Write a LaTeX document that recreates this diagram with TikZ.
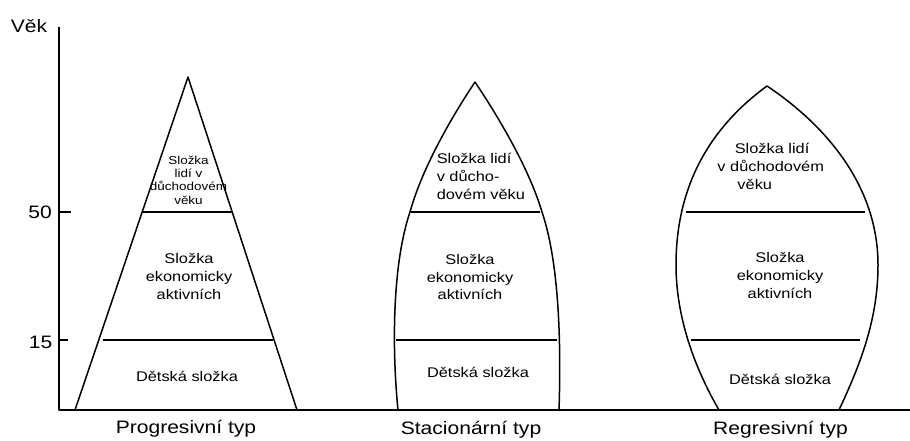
\documentclass[tikz,border=0pt]{standalone}
\usepackage{fontspec}
\setmainfont[FakeStretch=1.17]{Liberation Sans}
\begin{document}
\begin{tikzpicture}[x=1pt,y=-1pt,line width=1.5pt,line join=round,
  lbl/.style={inner sep=0pt,text depth=0pt,anchor=south,align=center},
  lblw/.style={inner sep=0pt,text depth=0pt,anchor=south west,align=left},
  small/.style={font=\fontsize{11.5}{13.3}\selectfont},
  mid/.style={font=\fontsize{14}{17.8}\selectfont},
  big/.style={font=\fontsize{18}{22}\selectfont}]
\useasboundingbox (0,0) rectangle (910,440);

% axes
\coordinate (axT) at (59,27);
\coordinate (axO) at (59,410);
\coordinate (axE) at (910,410);
\draw (axT) -- (axO) -- (axE);
\coordinate (t50a) at (59,212); \coordinate (t50b) at (70.5,212);
\coordinate (t15a) at (59,340); \coordinate (t15b) at (68,340);
\draw (t50a) -- (t50b);
\draw (t15a) -- (t15b);
\node[lblw,big] (vek) at (10,33.3) {Věk};
\node[inner sep=0pt,anchor=base east,big] (l50) at (52.5,218.3) {50};
\node[inner sep=0pt,anchor=base east,big] (l15) at (53,348.3) {15};

% progressive
\coordinate (pA) at (188,77);
\coordinate (pL) at (75,410);
\coordinate (pR) at (297,410);
\draw (pL) -- (pA) -- (pR);
\coordinate (p50L) at (142,212); \coordinate (p50R) at (232,212);
\coordinate (p15L) at (103,340); \coordinate (p15R) at (273,340);
\draw (p50L) -- (p50R);
\draw (p15L) -- (p15R);
\node[lbl,small] (pTop) at (188.5,205) {Složka\\lidí v\\důchodovém\\věku};
\node[lbl,mid] (pMid) at (189,300) {Složka\\ekonomicky\\aktivních};
\node[lbl,mid] (pBot) at (187,382) {Dětská složka};
\node[lbl,big] (pTit) at (186,434.5) {Progresivní typ};

% stationary
\coordinate (sA) at (475,82);
\coordinate (sL) at (398,410);
\coordinate (sR) at (559,410);
\coordinate (s50L) at (410,212);
\coordinate (s50R) at (542,212);
\draw (sL) .. controls (392,350) and (392,265) .. (s50L)
      .. controls (423,165) and (455,112) .. (sA)
      .. controls (495,112) and (528,165) .. (s50R)
      .. controls (560,265) and (561,350) .. (sR);
\coordinate (s50a) at (410.5,212); \coordinate (s50b) at (539.5,212);
\coordinate (s15a) at (396,340); \coordinate (s15b) at (557,340);
\draw (s50a) -- (s50b);
\draw (s15a) -- (s15b);
\node[lblw,mid] (sTop) at (436,200) {Složka lidí\\v důcho-\\dovém věku};
\node[lbl,mid] (sMid) at (470,300.7) {Složka\\ekonomicky\\aktivních};
\node[lbl,mid] (sBot) at (478,378.3) {Dětská složka};
\node[lbl,big] (sTit) at (471,435) {Stacionární typ};

% regressive
\coordinate (rA) at (767,86);
\coordinate (rL) at (719,410);
\coordinate (rR) at (839,410);
\coordinate (rW) at (676,265);
\coordinate (rE) at (878,265);
\draw (rL) .. controls (690,360) and (676,310) .. (rW)
      .. controls (676,180) and (715,124) .. (rA)
      .. controls (818,120) and (878,180) .. (rE)
      .. controls (878,320) and (860,365) .. (rR);
\coordinate (r50a) at (686,212); \coordinate (r50b) at (865,212);
\coordinate (r15a) at (691,340); \coordinate (r15b) at (860,340);
\draw (r50a) -- (r50b);
\draw (r15a) -- (r15b);
\node[lblw,mid] (rTop) at (716.7,190) {\hspace*{17.3pt}Složka lidí\\v důchodovém\\\hspace*{20pt}věku};
\node[lbl,mid] (rMid) at (780,299) {Složka\\ekonomicky\\aktivních};
\node[lbl,mid] (rBot) at (780,385) {Dětská složka};
\node[lbl,big] (rTit) at (780.5,435) {Regresivní typ};
\end{tikzpicture}
\end{document}
